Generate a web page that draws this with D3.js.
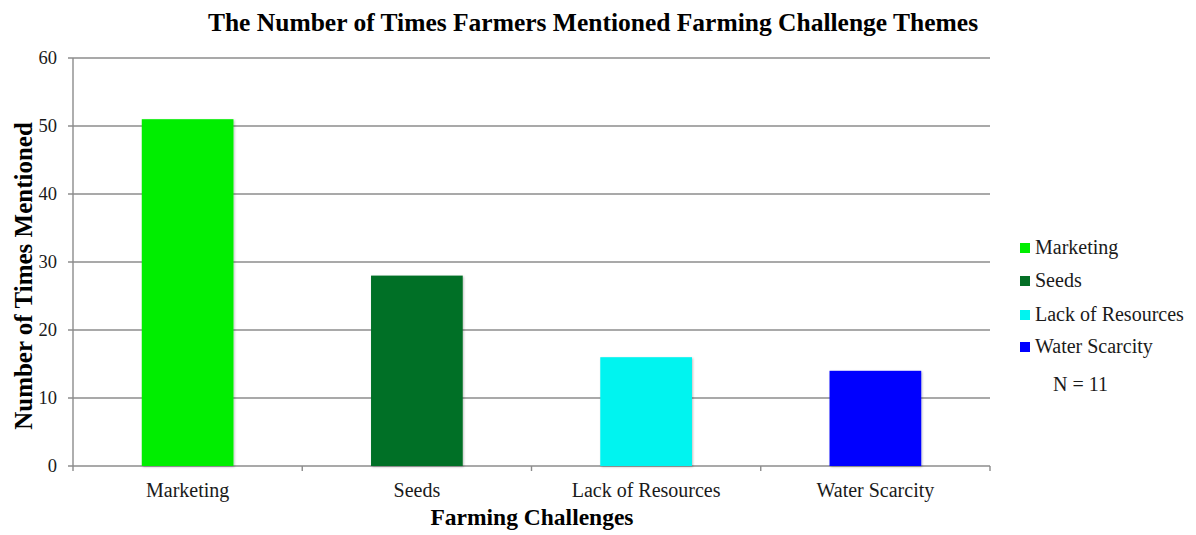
<!DOCTYPE html>
<html><head><meta charset="utf-8">
<script src="https://cdn.jsdelivr.net/npm/d3@7"></script>
<style>body{margin:0;background:#fff}svg{display:block}text{font-family:"Liberation Serif","Times New Roman",serif}</style>
</head><body><svg id="c" width="1196" height="535"></svg>
<script>
const categories = ["Marketing","Seeds","Lack of Resources","Water Scarcity"];
const values = [51,28,16,14];
const colors = ["#00ee00","#046f26","#00f4f0","#0000ff"];
const yTicks = [0,10,20,30,40,50,60];
const title = "The Number of Times Farmers Mentioned Farming Challenge Themes";
const xTitle = "Farming Challenges";
const yTitle = "Number of Times Mentioned";
const note = "N = 11";

const svg = d3.select("#c");
const L=73,R=990,T=58,B=466;
const x = d3.scaleBand().domain(categories).range([L,R]).paddingInner(0.6).paddingOuter(0.3);
const y = d3.scaleLinear().domain([0,60]).range([B,T]);

const defs = svg.append("defs");
const f = defs.append("filter").attr("id","sh").attr("x","-10%").attr("y","-10%").attr("width","130%").attr("height","130%");
f.append("feDropShadow").attr("dx",1).attr("dy",1).attr("stdDeviation",1.2).attr("flood-color","#000").attr("flood-opacity",0.25);

// gridlines
svg.append("g").selectAll("line").data(yTicks).join("line")
  .attr("x1",L-5).attr("x2",R).attr("y1",d=>y(d)).attr("y2",d=>y(d))
  .attr("stroke","#8c8c8c").attr("stroke-width",1.4);
// y axis line
svg.append("line").attr("x1",L).attr("x2",L).attr("y1",T).attr("y2",B).attr("stroke","#8c8c8c").attr("stroke-width",1.4);
// x category ticks
const bounds = d3.range(categories.length+1).map(i=>L+i*(R-L)/categories.length);
svg.append("g").selectAll("line").data(bounds).join("line")
  .attr("x1",d=>d).attr("x2",d=>d).attr("y1",B).attr("y2",B+5)
  .attr("stroke","#8c8c8c").attr("stroke-width",1.4);

// y tick labels
svg.append("g").selectAll("text").data(yTicks).join("text")
  .attr("x",L-16).attr("y",d=>y(d)+6).attr("text-anchor","end")
  .attr("font-size",18.5).attr("fill","#1a1a1a").text(d=>d);

// bars
svg.append("g").selectAll("rect").data(values).join("rect")
  .attr("x",(d,i)=>x(categories[i])).attr("width",x.bandwidth())
  .attr("y",d=>y(d)).attr("height",d=>B-y(d))
  .attr("fill",(d,i)=>colors[i]).attr("filter","url(#sh)");

// x labels
svg.append("g").selectAll("text").data(categories).join("text")
  .attr("x",d=>x(d)+x.bandwidth()/2).attr("y",497).attr("text-anchor","middle")
  .attr("font-size",20).attr("fill","#1a1a1a").text(d=>d);

svg.append("text").attr("x",593).attr("y",31).attr("text-anchor","middle")
  .attr("font-size",25.5).attr("font-weight","bold").attr("fill","#000").text(title);
svg.append("text").attr("x",532).attr("y",525).attr("text-anchor","middle")
  .attr("font-size",23.5).attr("font-weight","bold").attr("fill","#000").text(xTitle);
svg.append("text").attr("transform","translate(32,276) rotate(-90)").attr("text-anchor","middle")
  .attr("font-size",25).attr("font-weight","bold").attr("fill","#000").text(yTitle);

// legend
const lg = svg.append("g");
const legendY = [254,287,321,353];
categories.forEach((c,i)=>{
  lg.append("rect").attr("x",1020).attr("y",legendY[i]-11).attr("width",10).attr("height",10).attr("fill",colors[i]);
  lg.append("text").attr("x",1035).attr("y",legendY[i]).attr("font-size",20).attr("fill","#1a1a1a").text(c);
});
lg.append("text").attr("x",1053).attr("y",391).attr("font-size",20).attr("fill","#1a1a1a").text(note);
</script></body></html>
